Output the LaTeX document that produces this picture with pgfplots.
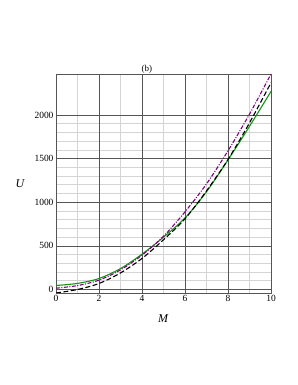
\documentclass[border=0pt]{standalone}
\usepackage{pgfplots}
\pgfplotsset{compat=1.18}
\usepackage{fontspec}
\setmainfont{Liberation Serif}
\definecolor{mgreen}{RGB}{20,150,20}
\definecolor{mpurple}{RGB}{128,0,128}
\definecolor{majgrid}{RGB}{85,85,85}
\definecolor{mingrid}{RGB}{212,212,212}
\pgfplotsset{common/.style={
  at={(56bp,92bp)}, anchor=south west,
  scale only axis, width=215bp, height=219bp,
  xmin=0, xmax=10, ymin=-40, ymax=2470,
  xtick={0,2,4,6,8,10}, ytick={0,500,1000,1500,2000},
  minor x tick num=1, minor y tick num=4,
  tick style={draw=none},
}}
\begin{document}
\begin{tikzpicture}
\path[use as bounding box, fill=white] (0,0) rectangle (298bp,385bp);
\begin{axis}[common,
  grid=minor,
  minor grid style={mingrid, line width=0.8pt},
  axis line style={draw=none}, xticklabels={}, yticklabels={},
]
\addplot[draw=none] coordinates {(0,0)};
\end{axis}
\begin{axis}[common,
  grid=major,
  major grid style={majgrid, line width=0.7pt},
  axis line style={majgrid, line width=0.7pt},
  tick label style={font=\fontsize{9.5}{11}\selectfont},
  /pgf/number format/assume math mode=true,
  /pgf/number format/1000 sep={},
  xticklabel style={yshift=1pt},
  yticklabel style={xshift=1pt},
  xlabel={\fontsize{12}{14}\selectfont\itshape M},
  ylabel={\fontsize{12}{14}\selectfont\itshape U},
  xlabel style={at={(0.498,0)}, anchor=north, yshift=-18bp},
  ylabel style={rotate=-90, at={(0,0.5)}, anchor=center, xshift=-36bp},
  title={\fontsize{9}{10}\selectfont (b)},
  title style={at={(0.423,1)}, anchor=south, yshift=-8.5pt},
  clip=true,
]
\addplot[mgreen, line width=1.1pt, smooth] coordinates {
(0,46) (1,70) (2,126) (3,240) (4,405) (5,600) (6,820) (7,1120) (8,1485) (9,1870) (10,2270)};
\addplot[black, line width=1.1pt, dash pattern=on 5pt off 2.5pt, smooth] coordinates {
(0,-40) (1,0) (2,69) (3,190) (4,356) (5,570) (6,810) (7,1130) (8,1490) (9,1910) (10,2370)};
\addplot[mpurple, line width=1.1pt, dash pattern=on 4pt off 1.5pt on 1pt off 1.5pt, smooth] coordinates {
(0,15) (1,45) (2,107) (3,225) (4,394) (5,610) (6,890) (7,1210) (8,1590) (9,2010) (10,2470)};
\end{axis}
\end{tikzpicture}
\end{document}
